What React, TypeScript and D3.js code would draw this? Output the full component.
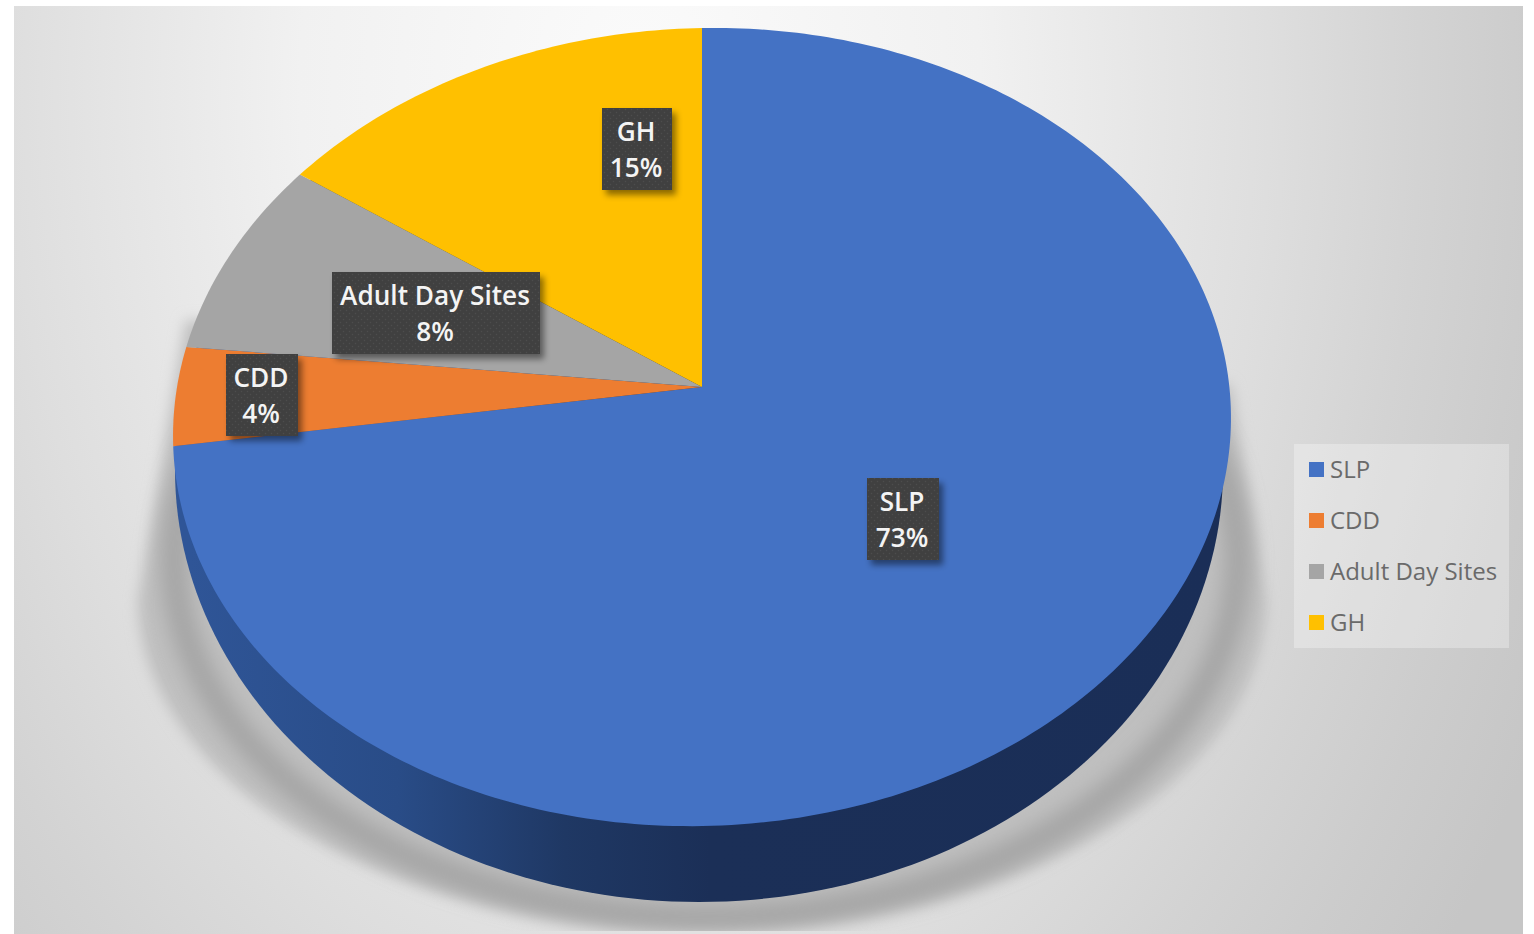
import React from "react";
import * as d3 from "d3";

// Share of sites by program type, clockwise from twelve o'clock.
const categories = ["SLP", "CDD", "Adult Day Sites", "GH"];
const shares = [73, 4, 8, 15];
const sliceColors = ["#4472C4", "#ED7D31", "#A5A5A5", "#FFC000"];

// Centres of the hand-placed data labels, in the same order as the categories.
const labelCentersX = [903, 262, 436, 637];
const labelCentersY = [519, 395, 313, 149];
const labelWidths = [72, 72, 208, 70];

const WIDTH = 1534;
const HEIGHT = 934;

// The disc is drawn in perspective: a homography from the unit disc to the page
// sends the hub to (hubX, hubY) and the rim to the visible ellipse.
const hubX = 702;
const hubY = 387;
const persp = -0.1003;
const vScale = 356.2;
const uScale = 526.3;
const tilt = -9;

function project(angle: number, radius = 1): [number, number] {
  const u = Math.sin(angle) * radius;
  const v = -Math.cos(angle) * radius;
  const w = 1 + persp * v;
  return [hubX + (uScale * u) / w, (hubY + vScale * v + tilt * u) / w];
}

const pieLayout = d3
  .pie<number>()
  .sort(null)
  .value((d) => d);
const slices = pieLayout(shares);

const linePath = d3.line<[number, number]>();

function slicePath(start: number, end: number): string {
  const steps = Math.max(8, Math.ceil((end - start) * 60));
  const arc = d3
    .range(steps + 1)
    .map((i) => project(start + ((end - start) * i) / steps));
  return linePath([[hubX, hubY], ...arc])! + "Z";
}

// Plain sampled ellipse.
function ellipsePath(cx: number, cy: number, rx: number, ry: number): string {
  const pts = d3.range(241).map((i): [number, number] => {
    const t = (i / 240) * 2 * Math.PI;
    return [cx + rx * Math.cos(t), cy + ry * Math.sin(t)];
  });
  return linePath(pts)! + "Z";
}

// Ground shadow: lower half of an ellipse whose flanks taper up behind the disc.
function shadowPath(): string {
  const cx = 702;
  const cy = 600;
  const bottom = d3.range(121).map((i): [number, number] => {
    const t = Math.PI - (i / 120) * Math.PI;
    return [cx + 564 * Math.cos(t), cy + 330 * Math.sin(t)];
  });
  const flanks: [number, number][] = [
    [1231, 385],
    [186, 320],
  ];
  return linePath([...bottom, ...flanks])! + "Z";
}

export default function App() {
  const legendY = d3
    .scalePoint<string>()
    .domain(categories)
    .range([469, 622]);

  return (
    <svg
      width={WIDTH}
      height={HEIGHT}
      viewBox={`0 0 ${WIDTH} ${HEIGHT}`}
      style={{ position: "absolute", left: 0, top: 0, display: "block" }}
    >
      <defs>
        <radialGradient
          id="panelFill"
          gradientUnits="userSpaceOnUse"
          cx={0}
          cy={0}
          r={1000}
          gradientTransform="translate(640 90) scale(1 1.45)"
        >
          <stop offset="0" stopColor="#fbfbfb" />
          <stop offset="0.34" stopColor="#f1f1f1" />
          <stop offset="0.63" stopColor="#dedede" />
          <stop offset="0.78" stopColor="#d3d3d3" />
          <stop offset="0.89" stopColor="#cccccc" />
          <stop offset="1" stopColor="#c6c6c6" />
        </radialGradient>
        <linearGradient
          id="wallFill"
          gradientUnits="userSpaceOnUse"
          x1={190}
          y1={0}
          x2={1230}
          y2={0}
        >
          <stop offset="0" stopColor="#2f5597" />
          <stop offset="0.2" stopColor="#294c87" />
          <stop offset="0.36" stopColor="#1f3864" />
          <stop offset="0.5" stopColor="#1b2f57" />
          <stop offset="1" stopColor="#1a2e57" />
        </linearGradient>
        <filter id="softWide" x="-20%" y="-20%" width="140%" height="140%">
          <feGaussianBlur stdDeviation="7" />
        </filter>
        <filter id="softRidge" x="-20%" y="-20%" width="140%" height="140%">
          <feGaussianBlur stdDeviation="10" />
        </filter>
        <filter id="boxShadow" x="-30%" y="-30%" width="160%" height="160%">
          <feDropShadow
            dx="4"
            dy="5"
            stdDeviation="3"
            floodColor="#000"
            floodOpacity="0.45"
          />
        </filter>
        <pattern
          id="boxDots"
          patternUnits="userSpaceOnUse"
          width={6}
          height={6}
        >
          <rect width={6} height={6} fill="#404040" />
          <circle cx={1.5} cy={1.5} r={0.8} fill="#4e4e4e" />
          <circle cx={4.5} cy={4.5} r={0.8} fill="#4e4e4e" />
        </pattern>
        <clipPath id="panelClip">
          <rect x={14} y={6} width={1509} height={925} />
        </clipPath>
      </defs>

      <rect x={14} y={6} width={1509} height={928} fill="url(#panelFill)" />

      <g clipPath="url(#panelClip)">
        <path d={shadowPath()} fill="#bfbfbf" filter="url(#softWide)" />
        <path
          d={ellipsePath(706, 560, 532, 358)}
          fill="none"
          stroke="#a4a4a4"
          strokeWidth={26}
          filter="url(#softRidge)"
        />
      </g>

      {/* Side wall, then the top face of the disc over it */}
      <path d={ellipsePath(699, 470, 524, 432)} fill="url(#wallFill)" />
      {slices.map((s, i) => (
        <path
          key={categories[i]}
          d={slicePath(s.startAngle, s.endAngle)}
          fill={sliceColors[i]}
        />
      ))}

      {/* Data labels */}
      {categories.map((name, i) => {
        const cx = labelCentersX[i];
        const cy = labelCentersY[i];
        const w = labelWidths[i];
        return (
          <g key={name}>
            <rect
              x={cx - w / 2}
              y={cy - 41}
              width={w}
              height={82}
              fill="url(#boxDots)"
              filter="url(#boxShadow)"
            />
            <text
              x={cx}
              textAnchor="middle"
              fontFamily="'Open Sans', sans-serif"
              fontWeight={600}
              fontSize={26.2}
              fill="#f4f4f4"
            >
              <tspan x={cx - 1} y={cy - 8}>
                {name}
              </tspan>
              <tspan x={cx - 1} y={cy + 28}>
                {d3.format(".0%")(shares[i] / 100)}
              </tspan>
            </text>
          </g>
        );
      })}

      {/* Legend */}
      <rect
        x={1294}
        y={444}
        width={215}
        height={204}
        fill="#ffffff"
        fillOpacity={0.3}
      />
      {categories.map((name, i) => {
        const y = legendY(name)!;
        return (
          <g key={name}>
            <rect
              x={1309}
              y={y - 7}
              width={15}
              height={15}
              fill={sliceColors[i]}
            />
            <text
              x={1330}
              y={y + 9}
              fontFamily="'Open Sans', sans-serif"
              fontSize={24}
              fill="#6a6a6a"
            >
              {name}
            </text>
          </g>
        );
      })}
    </svg>
  );
}
